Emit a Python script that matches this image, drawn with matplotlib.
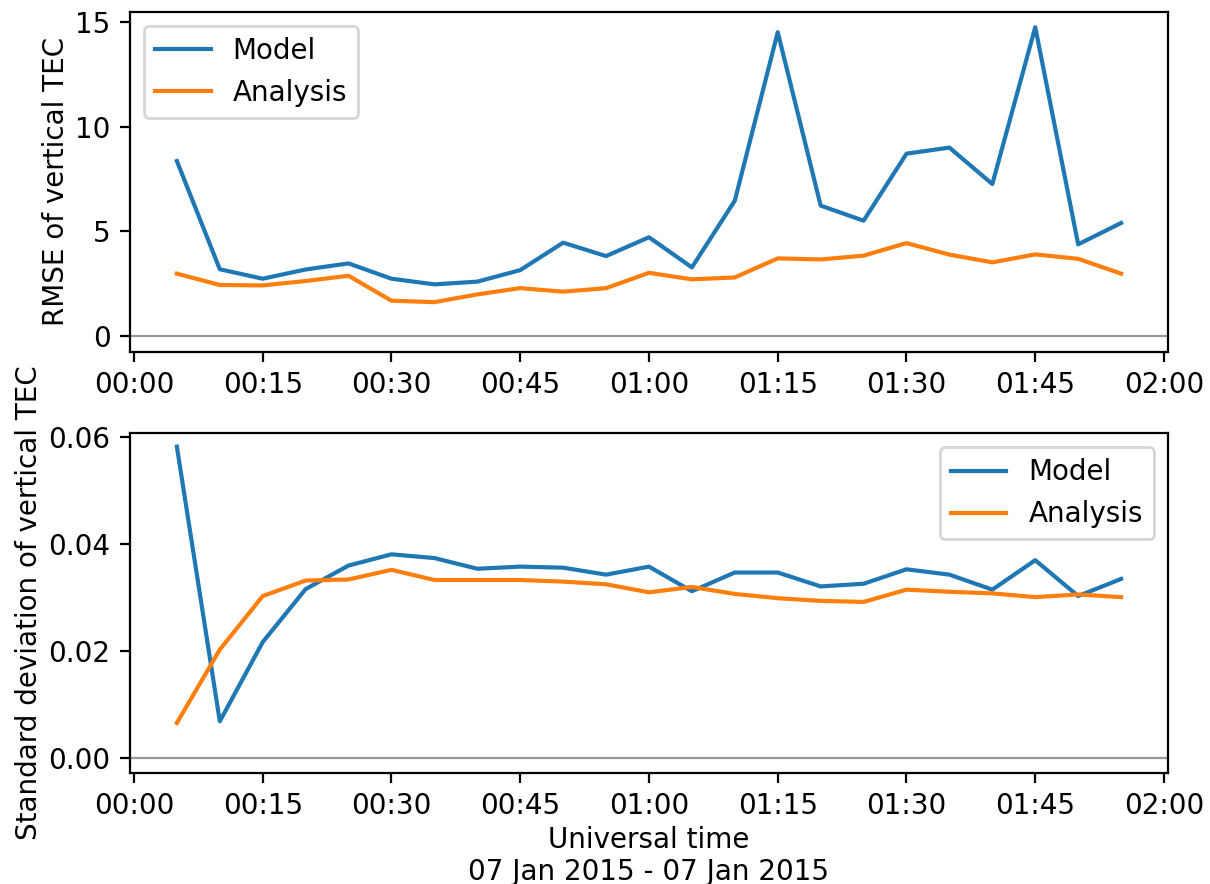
import matplotlib
matplotlib.use("Agg")
import matplotlib.pyplot as plt
import matplotlib.dates as mdates
from matplotlib.ticker import MultipleLocator
import pandas as pd

# times of the samples (07 Jan 2015, every 5 minutes)
times = ["00:05", "00:10", "00:15", "00:20", "00:25", "00:30", "00:35", "00:40",
         "00:45", "00:50", "00:55", "01:00", "01:05", "01:10", "01:15", "01:20",
         "01:25", "01:30", "01:35", "01:40", "01:45", "01:50", "01:55"]

rmse_model = [8.36, 3.19, 2.74, 3.18, 3.47, 2.74, 2.47, 2.60, 3.15, 4.46, 3.82, 4.72,
              3.28, 6.47, 14.51, 6.23, 5.51, 8.71, 9.00, 7.26, 14.75, 4.38, 5.40]
rmse_analysis = [2.98, 2.44, 2.42, 2.63, 2.88, 1.69, 1.62, 1.99, 2.29, 2.12, 2.29, 3.02,
                 2.71, 2.80, 3.71, 3.66, 3.84, 4.44, 3.89, 3.52, 3.90, 3.69, 2.98]

std_model = [0.0581, 0.0068, 0.0216, 0.0315, 0.0359, 0.0380, 0.0373, 0.0353, 0.0357,
             0.0355, 0.0342, 0.0357, 0.0311, 0.0346, 0.0346, 0.0320, 0.0325, 0.0352,
             0.0342, 0.0314, 0.0369, 0.0302, 0.0334]
std_analysis = [0.0065, 0.0202, 0.0302, 0.0331, 0.0333, 0.0351, 0.0332, 0.0332, 0.0332,
                0.0329, 0.0324, 0.0309, 0.0319, 0.0306, 0.0298, 0.0293, 0.0291, 0.0314,
                0.0310, 0.0307, 0.0300, 0.0305, 0.0300]

t = pd.to_datetime(["2015-01-07 " + s for s in times])
t0 = pd.Timestamp("2015-01-07 00:00")
t1 = pd.Timestamp("2015-01-07 02:00")
pad = pd.Timedelta(seconds=28)

fig = plt.figure(figsize=(6.05, 4.42), dpi=200)
ax1 = fig.add_axes([0.1074, 0.6018, 0.8579, 0.385])
ax2 = fig.add_axes([0.1074, 0.1259, 0.8579, 0.3839])

ax1.axhline(0, color="0.6", lw=0.8)
ax1.plot(t, rmse_model, lw=1.5, label="Model")
ax1.plot(t, rmse_analysis, lw=1.5, label="Analysis")
ax1.set_ylabel("RMSE of vertical TEC", labelpad=2)
ax1.set_ylim(-0.76, 15.49)
ax1.yaxis.set_major_locator(MultipleLocator(5))
ax1.legend(loc="upper left")

ax2.axhline(0, color="0.6", lw=0.8)
ax2.plot(t, std_model, lw=1.5, label="Model")
ax2.plot(t, std_analysis, lw=1.5, label="Analysis")
ax2.set_ylabel("Standard deviation of vertical TEC", labelpad=2)
ax2.set_ylim(-0.0028, 0.0606)
ax2.yaxis.set_major_locator(MultipleLocator(0.02))
ax2.legend(loc="upper right")
ax2.set_xlabel("Universal time\n07 Jan 2015 - 07 Jan 2015", labelpad=2)

for ax in (ax1, ax2):
    ax.set_xlim(t0 - pad, t1 + pad)
    ax.xaxis.set_major_locator(mdates.MinuteLocator(byminute=[0, 15, 30, 45]))
    ax.xaxis.set_major_formatter(mdates.DateFormatter("%H:%M"))

fig.savefig("out.png", dpi=200)
